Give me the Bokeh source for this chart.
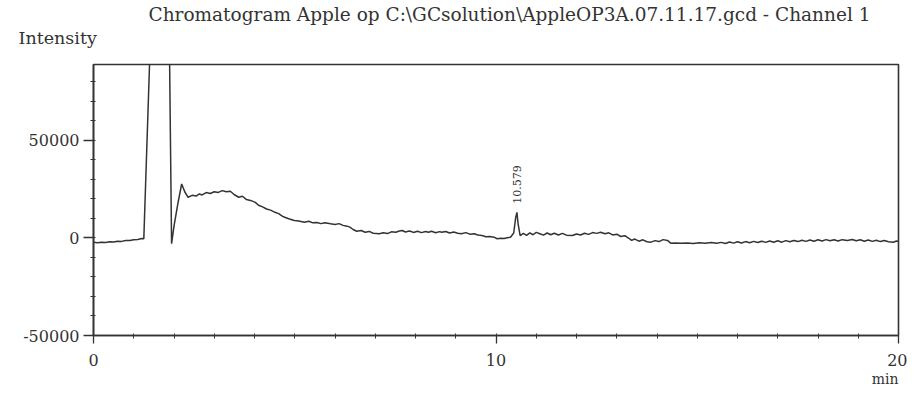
from bokeh.plotting import figure
from bokeh.models import FixedTicker, Title, ColumnDataSource, Range1d
from bokeh.core.properties import value
from bokeh.embed import file_html
from bokeh.resources import INLINE

title_text = "Chromatogram Apple op C:\\GCsolution\\AppleOP3A.07.11.17.gcd - Channel 1"
y_title = "Intensity"
x_unit = "min"

x_ticks = [0, 10, 20]
x_minor = list(range(0, 21))
y_ticks = [-50000, 0, 50000]
y_tick_labels = ["-50000", "0", "50000"]
y_minor = list(range(-50000, 90000, 10000))

time_min = [
    0.0, 0.1, 0.2, 0.3, 0.4, 0.5, 0.6, 0.7, 0.8, 0.9, 1.0, 1.1, 1.2, 1.25,
    1.45, 1.65, 1.88, 1.94,
    2.0, 2.1, 2.19, 2.27, 2.35, 2.45, 2.55, 2.63, 2.7, 2.8, 2.9, 3.0, 3.1, 3.2,
    3.3, 3.4, 3.5, 3.61, 3.7, 3.8, 3.9, 4.02, 4.1, 4.2, 4.3, 4.4, 4.51, 4.6,
    4.7, 4.75, 4.85, 4.99, 5.1, 5.24, 5.35, 5.45, 5.55, 5.65, 5.75, 5.89, 6.0,
    6.1, 6.2, 6.3, 6.37, 6.45, 6.54, 6.65, 6.75, 6.85, 6.95, 7.1, 7.2, 7.3,
    7.4, 7.51, 7.6, 7.67, 7.75, 7.85, 7.95, 8.05, 8.15, 8.25, 8.32, 8.4, 8.5,
    8.6, 8.65, 8.75, 8.85, 8.95, 9.05, 9.14, 9.25, 9.35, 9.46, 9.55, 9.65,
    9.75, 9.85, 9.95, 10.03, 10.12, 10.2, 10.28, 10.36, 10.44, 10.49, 10.52,
    10.55, 10.6, 10.68, 10.76, 10.84, 10.92, 11.0, 11.09, 11.18, 11.27, 11.36,
    11.45, 11.55, 11.65, 11.75, 11.9, 12.0, 12.1, 12.2, 12.3, 12.4, 12.5, 12.6,
    12.71, 12.8, 12.9, 13.0, 13.1, 13.2, 13.3, 13.37, 13.45, 13.55, 13.65,
    13.75, 13.85, 13.95, 14.05, 14.15, 14.26, 14.34, 14.45, 14.6, 14.75, 14.9,
    15.05, 15.2, 15.35, 15.48, 15.6, 15.7, 15.8, 15.9, 16.0, 16.1, 16.2, 16.3,
    16.4, 16.5, 16.6, 16.7, 16.8, 16.9, 17.0, 17.1, 17.2, 17.3, 17.4, 17.5,
    17.6, 17.7, 17.8, 17.9, 18.0, 18.1, 18.2, 18.3, 18.4, 18.5, 18.6, 18.73,
    18.85, 18.95, 19.05, 19.15, 19.25, 19.35, 19.45, 19.55, 19.65, 19.75,
    19.87, 19.95, 20.0,
]
intensity = [
    -2300, -2500, -2200, -2400, -2000, -2100, -1700, -1800, -1300, -1400, -1000, -800, -300, -400,
    125000, 300000, 110000, -3000,
    6000, 18000, 27600, 23500, 20800, 21800, 21400, 22500, 22000, 23200, 22700, 23600, 23300, 24200,
    23600, 23900, 22100, 20800, 21300, 19600, 19200, 18200, 16700, 15900, 14800, 14200, 13100, 12400,
    11000, 10600, 9800, 8900, 8600, 8000, 8500, 7700, 7900, 7300, 7700, 7200, 6900,
    7300, 6400, 6000, 5500, 4300, 3400, 3800, 2900, 3300, 2400, 2100, 2600, 2200,
    3100, 2900, 3500, 3800, 3000, 3500, 2800, 3400, 2700, 3300, 2900, 3400, 2600,
    3200, 2900, 3300, 2500, 3000, 2400, 2100, 2700, 1900, 2100, 1500, 1200,
    600, 700, 350, -450, -200, -300, 100, 350, 2500, 10500, 13100,
    7000, 1200, 2300, 1300, 2600, 1600, 2800, 2100, 1400, 2500, 1600,
    2400, 1500, 2300, 1400, 1200, 2000, 1500, 2400, 1800, 2700, 2300, 2900,
    2100, 2600, 1500, 1900, 700, 1100, -200, -1300, -600, -1700, -1000,
    -2000, -2200, -1400, -1900, -900, -1300, -2700, -2600, -2800, -2600, -2900,
    -2500, -2800, -2400, -2700, -2300, -2900, -2100, -2700, -2000, -2600, -1900, -2500,
    -1800, -2400, -1700, -2300, -1600, -2200, -1500, -2200, -1400, -2000, -1300, -1900,
    -1200, -1800, -1100, -1700, -1000, -1600, -900, -1500, -1000, -1600, -900, -1300,
    -800, -1500, -1000, -1700, -1100, -1800, -1200, -1900, -1300, -2000,
    -2200, -1600, -1900,
]

peak_times = [10.52]
peak_heights = [13100]
peak_labels = ["10.579"]

ink = "#333333"
serif = "DejaVu Serif"

p = figure(width=907, height=389, output_backend="svg", toolbar_location=None,
           x_range=Range1d(0, 20), y_range=Range1d(-50000, 88800),
           min_border_left=93, min_border_right=9, min_border_top=64,
           min_border_bottom=54, background_fill_color="white",
           border_fill_color="white")

p.title.text = title_text
p.title.align = "left"
p.title.offset = 55
p.title.standoff = -30
p.title.text_font = serif
p.title.text_font_size = "18.5px"
p.title.text_font_style = "normal"
p.title.text_color = ink

p.add_layout(Title(text=y_title, align="left", offset=-75, standoff=33,
                   text_font=serif, text_font_size="17.5px",
                   text_font_style="normal", text_color=ink), "above")
p.add_layout(Title(text=x_unit, align="right", offset=0, standoff=0,
                   text_font=serif, text_font_size="14px",
                   text_font_style="normal", text_color=ink), "below")

p.xgrid.visible = False
p.ygrid.visible = False
p.outline_line_color = ink
p.outline_line_width = 1.6

p.xaxis.ticker = FixedTicker(ticks=x_ticks, minor_ticks=x_minor)
p.yaxis.ticker = FixedTicker(ticks=y_ticks, minor_ticks=y_minor)
p.yaxis.major_label_overrides = {t: l for t, l in zip(y_ticks, y_tick_labels)}
p.xaxis.major_label_overrides = {t: str(t) for t in x_ticks}

for ax in (p.xaxis, p.yaxis):
    ax.axis_line_color = ink
    ax.axis_line_width = 1.6
    ax.major_tick_line_color = ink
    ax.minor_tick_line_color = ink
    ax.major_tick_line_width = 1.3
    ax.minor_tick_line_width = 1
    ax.major_tick_in = 0
    ax.minor_tick_in = 2
    ax.minor_tick_out = 3
    ax.major_label_text_font = serif
    ax.major_label_text_font_size = "16px"
    ax.major_label_text_color = ink
p.xaxis.major_tick_out = 8
p.xaxis.major_label_standoff = 10
p.yaxis.major_tick_out = 10
p.yaxis.major_label_standoff = 4

src = ColumnDataSource(dict(t=time_min, v=intensity))
p.line("t", "v", source=src, line_color=ink, line_width=1.5)

lab = ColumnDataSource(dict(t=peak_times, v=[h + 4400 for h in peak_heights], s=peak_labels))
p.text("t", "v", text="s", source=lab, angle=1.5708, text_align="left",
       text_baseline="middle", text_font=value(serif), text_font_size="11px",
       text_color=ink)

open("out.html", "w").write(file_html(p, INLINE))
